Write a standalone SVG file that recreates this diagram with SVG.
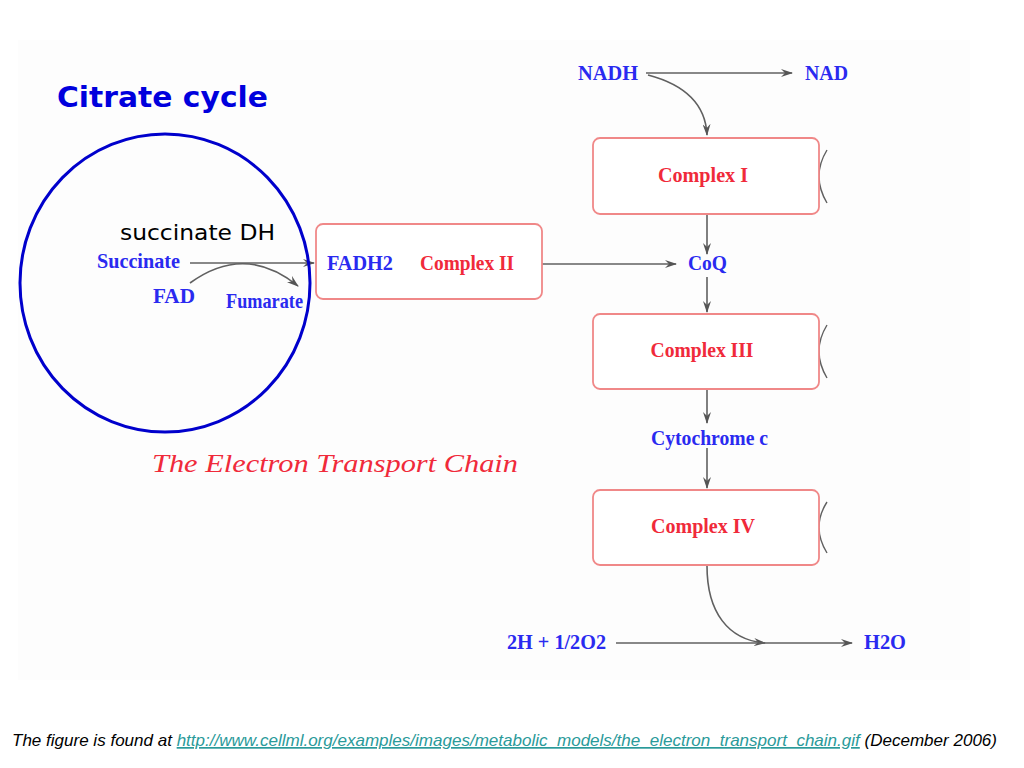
<svg xmlns="http://www.w3.org/2000/svg" width="1024" height="768" viewBox="0 0 1024 768">
<defs>
<marker id="ah" viewBox="0 0 12 8" refX="11" refY="4" markerWidth="12" markerHeight="8" markerUnits="userSpaceOnUse" orient="auto">
<path d="M0,0 L12,4 L0,8 L4,4 z" fill="#555"/>
</marker>
<style>
.bl{font-family:"Liberation Serif",serif;font-weight:bold;font-size:22px;fill:#2a2af0}
.rd{font-family:"Liberation Serif",serif;font-weight:bold;font-size:22px;fill:#f02a3a}
.box{fill:#fff;stroke:#f08888;stroke-width:1.8}
.ln{fill:none;stroke:#606060;stroke-width:1.6}
.arc{fill:none;stroke:#606060;stroke-width:1.4}
</style>
</defs>
<rect width="1024" height="768" fill="#fff"/>
<rect x="18" y="40" width="952" height="640" fill="#fdfdfd"/>

<g id="connectors">
<path class="ln" d="M646,73 L792,73" marker-end="url(#ah)"/>
<path class="ln" d="M648,75 Q705,90 707,135" marker-end="url(#ah)"/>
<path class="ln" d="M707,214 L707,254" marker-end="url(#ah)"/>
<path class="ln" d="M542,264 L676,264" marker-end="url(#ah)"/>
<path class="ln" d="M707,277 L707,312" marker-end="url(#ah)"/>
<path class="ln" d="M707,389 L707,423" marker-end="url(#ah)"/>
<path class="ln" d="M707,448 L707,488" marker-end="url(#ah)"/>
<path class="ln" d="M707,566 C707,612 728,640 765,643" marker-end="url(#ah)"/>
<path class="ln" d="M616,643 L852,643" marker-end="url(#ah)"/>
<path class="ln" d="M190,263 L314,263" marker-end="url(#ah)"/>
<path class="ln" d="M190,283 Q245,243 298,286" marker-end="url(#ah)"/>
<path class="arc" d="M827,150 Q811,176 827,203"/>
<path class="arc" d="M827,325 Q811,351 827,378"/>
<path class="arc" d="M827,502 Q811,527 827,553"/>
</g>

<g id="complex1">
<rect class="box" x="593" y="138" width="226" height="76" rx="7"/>
<text class="rd" x="703" y="182" text-anchor="middle" textLength="90" lengthAdjust="spacingAndGlyphs">Complex I</text>
</g>
<g id="complex2">
<rect class="box" x="316" y="224" width="226" height="75" rx="7"/>
<text class="bl" x="327" y="270" textLength="66" lengthAdjust="spacingAndGlyphs">FADH2</text>
<text class="rd" x="420" y="270" textLength="94" lengthAdjust="spacingAndGlyphs">Complex II</text>
</g>
<g id="complex3">
<rect class="box" x="593" y="314" width="226" height="75" rx="7"/>
<text class="rd" x="702" y="357" text-anchor="middle" textLength="103" lengthAdjust="spacingAndGlyphs">Complex III</text>
</g>
<g id="complex4">
<rect class="box" x="593" y="490" width="226" height="75" rx="7"/>
<text class="rd" x="703" y="533" text-anchor="middle" textLength="104" lengthAdjust="spacingAndGlyphs">Complex IV</text>
</g>

<g id="nadh"><text class="bl" x="578" y="80" textLength="60" lengthAdjust="spacingAndGlyphs">NADH</text></g>
<g id="nad"><text class="bl" x="805" y="80" textLength="43" lengthAdjust="spacingAndGlyphs">NAD</text></g>
<g id="coq"><text class="bl" x="688" y="270" textLength="39" lengthAdjust="spacingAndGlyphs">CoQ</text></g>
<g id="cytc"><text class="bl" x="651" y="445" textLength="117" lengthAdjust="spacingAndGlyphs">Cytochrome c</text></g>
<g id="o2"><text class="bl" x="507" y="649" textLength="99" lengthAdjust="spacingAndGlyphs">2H + 1/2O2</text></g>
<g id="h2o"><text class="bl" x="864" y="649" textLength="42" lengthAdjust="spacingAndGlyphs">H2O</text></g>
<g id="succinate"><text class="bl" x="97" y="268" textLength="83" lengthAdjust="spacingAndGlyphs">Succinate</text></g>
<g id="fad"><text class="bl" x="153" y="303" textLength="42" lengthAdjust="spacingAndGlyphs">FAD</text></g>
<g id="fumarate"><text class="bl" x="226" y="308" textLength="77" lengthAdjust="spacingAndGlyphs">Fumarate</text></g>

<text x="152" y="472" font-family="Liberation Serif, serif" font-style="italic" font-size="26" fill="#f02a3a" textLength="366" lengthAdjust="spacingAndGlyphs">The Electron Transport Chain</text>

<g id="citrate">
<ellipse cx="165" cy="283" rx="145" ry="149" fill="none" stroke="#0000cc" stroke-width="3"/>
<text x="57" y="107" font-family="DejaVu Sans, sans-serif" font-weight="bold" font-size="29" fill="#0000dd" textLength="211" lengthAdjust="spacingAndGlyphs">Citrate cycle</text>
<text x="120" y="240" font-family="DejaVu Sans, sans-serif" font-size="22" fill="#000" textLength="155" lengthAdjust="spacingAndGlyphs">succinate DH</text>
</g>

<g id="footer">
<text x="12" y="746" font-family="Liberation Sans, sans-serif" font-style="italic" font-size="17" fill="#000" textLength="985" lengthAdjust="spacingAndGlyphs">The figure is found at <tspan fill="#2a9a9a" text-decoration="underline">http://www.cellml.org/examples/images/metabolic_models/the_electron_transport_chain.gif</tspan> (December 2006)</text>
</g>
</svg>
